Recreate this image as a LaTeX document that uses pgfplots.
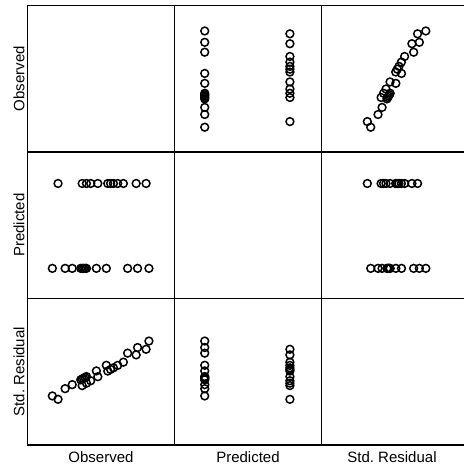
\documentclass[border=0pt]{standalone}
\usepackage{pgfplots}
\pgfplotsset{compat=1.18}
\usepackage{pgfplotstable}
\usepgfplotslibrary{groupplots}
\usetikzlibrary{calc}
\usepackage{fontspec}
\setmainfont{Liberation Sans}

\pgfplotstableread{
obs pred sres
16 45.50 -1.569
25 45.50 -1.090
30 45.50 -0.824
36 45.50 -0.505
37 45.50 -0.452
38 45.50 -0.399
39 45.50 -0.346
40 45.50 -0.293
47 45.50 0.080
54 45.50 0.452
69 45.50 1.250
76 45.50 1.622
84 45.50 2.048
20 53.67 -1.791
37 53.67 -0.887
40 53.67 -0.727
43 53.67 -0.568
48 53.67 -0.302
55 53.67 0.071
57 53.67 0.177
59 53.67 0.284
62 53.67 0.443
66 53.67 0.656
75 53.67 1.135
82 53.67 1.507
}\datatable

\pgfplotsset{opencirc/.style={black, only marks, mark=o, mark size=3.9pt, mark options={line width=1.5pt, draw=black, fill=none}}}

\begin{document}
\begin{tikzpicture}
\def\omin{-1.5}\def\omax{102}
\def\pmin{42.6}\def\pmax{56.7}
\def\smin{-4.8}\def\smax{4.85}
\begin{groupplot}[
  group style={group size=3 by 3, horizontal sep=0pt, vertical sep=0pt},
  scale only axis, width=147pt, height=146.5pt,
  xtick=\empty, ytick=\empty,
  axis line style={line width=1.3pt, black},
  clip=false,
]
% row 1: Observed
\nextgroupplot[xmin=\omin, xmax=\omax, ymin=\omin, ymax=\omax]
\nextgroupplot[xmin=\pmin, xmax=\pmax, ymin=\omin, ymax=\omax]
\addplot[opencirc] table[x=pred, y=obs] {\datatable};
\nextgroupplot[xmin=\smin, xmax=\smax, ymin=\omin, ymax=\omax]
\addplot[opencirc] table[x=sres, y=obs] {\datatable};
% row 2: Predicted
\nextgroupplot[xmin=\omin, xmax=\omax, ymin=\pmin, ymax=\pmax]
\addplot[opencirc] table[x=obs, y=pred] {\datatable};
\nextgroupplot[xmin=\pmin, xmax=\pmax, ymin=\pmin, ymax=\pmax]
\nextgroupplot[xmin=\smin, xmax=\smax, ymin=\pmin, ymax=\pmax]
\addplot[opencirc] table[x=sres, y=pred] {\datatable};
% row 3: Std. Residual
\nextgroupplot[xmin=\omin, xmax=\omax, ymin=\smin, ymax=\smax]
\addplot[opencirc] table[x=obs, y=sres] {\datatable};
\nextgroupplot[xmin=\pmin, xmax=\pmax, ymin=\smin, ymax=\smax]
\addplot[opencirc] table[x=pred, y=sres] {\datatable};
\nextgroupplot[xmin=\smin, xmax=\smax, ymin=\smin, ymax=\smax]
\end{groupplot}
\begin{scope}[every node/.style={font=\fontsize{15}{17}\selectfont, inner sep=0pt}]
\node[rotate=90] at ($(group c1r1.west)+(-8.5pt,0)$) {Observed};
\node[rotate=90] at ($(group c1r2.west)+(-8.5pt,0)$) {Predicted};
\node[rotate=90] at ($(group c1r3.west)+(-8.5pt,0)$) {Std.\ Residual};
\node at ($(group c1r3.south)+(0,-12.5pt)$) {Observed};
\node at ($(group c2r3.south)+(0,-12.5pt)$) {Predicted};
\node at ($(group c3r3.south)+(-3pt,-12.5pt)$) {Std.\ Residual};
\end{scope}
\pgfresetboundingbox
\path ($(group c1r1.north west)+(-27.5pt,5.5pt)$) rectangle ($(group c1r1.north west)+(435.5pt,-459.5pt)$);
\end{tikzpicture}
\end{document}
